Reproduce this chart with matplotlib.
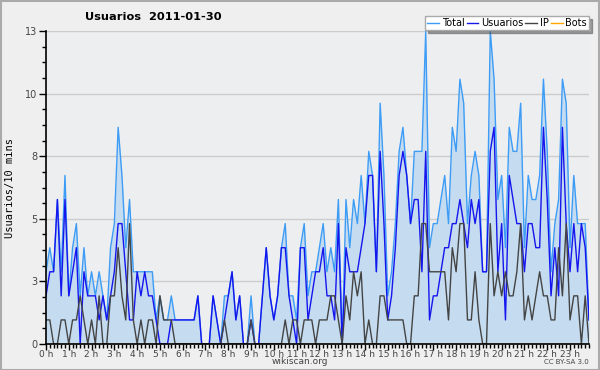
import matplotlib
matplotlib.use("Agg")
import matplotlib.pyplot as plt
import numpy as np
from matplotlib.ticker import FixedLocator, MultipleLocator

# valores por intervalo de 10 minutos (144 puntos)
total = [3, 4, 3, 6, 3, 7, 2, 4, 5, 2,
         4, 2, 3, 2, 3, 2, 1, 4, 5, 9,
         7, 4, 6, 3, 3, 3, 3, 3, 3, 1,
         2, 1, 1, 2, 1, 1, 1, 1, 1, 1,
         2, 0, 0, 0, 2, 1, 0, 2, 2, 3,
         1, 2, 0, 0, 2, 0, 0, 2, 4, 2,
         1, 2, 4, 5, 2, 2, 1, 4, 5, 2,
         3, 3, 4, 5, 3, 4, 3, 6, 0, 6,
         4, 6, 5, 7, 5, 8, 7, 3, 10, 7,
         2, 3, 5, 8, 9, 7, 5, 8, 8, 8,
         13, 4, 5, 5, 6, 7, 5, 9, 8, 11,
         10, 5, 7, 8, 7, 3, 3, 13, 11, 6,
         7, 4, 9, 8, 8, 10, 4, 7, 6, 6,
         7, 11, 8, 3, 5, 6, 11, 10, 4, 7,
         5, 5, 5, 1]
usuarios = [2, 3, 3, 6, 2, 6, 2, 3, 4, 0,
            3, 2, 2, 2, 1, 2, 1, 2, 3, 5,
            5, 3, 1, 1, 3, 2, 3, 2, 2, 1,
            0, 0, 0, 1, 1, 1, 1, 1, 1, 1,
            2, 0, 0, 0, 2, 1, 0, 1, 2, 3,
            1, 2, 0, 0, 1, 0, 0, 2, 4, 2,
            1, 2, 4, 4, 2, 1, 0, 4, 4, 1,
            2, 3, 3, 4, 2, 2, 1, 5, 0, 4,
            3, 3, 3, 4, 5, 7, 7, 3, 8, 5,
            1, 2, 4, 7, 8, 7, 5, 6, 6, 3,
            8, 1, 2, 2, 3, 4, 4, 5, 5, 6,
            5, 4, 6, 5, 6, 3, 3, 8, 9, 3,
            5, 1, 7, 6, 5, 5, 3, 5, 5, 4,
            4, 9, 6, 2, 4, 2, 9, 5, 3, 5,
            3, 5, 4, 1]
ip = [1, 1, 0, 0, 1, 1, 0, 1, 1, 2,
      1, 0, 1, 0, 2, 0, 0, 2, 2, 4,
      2, 1, 5, 1, 0, 1, 0, 1, 1, 0,
      2, 1, 1, 1, 0, 0, 0, 0, 0, 0,
      0, 0, 0, 0, 0, 0, 0, 1, 0, 0,
      0, 0, 0, 0, 1, 0, 0, 0, 0, 0,
      0, 0, 0, 1, 0, 1, 1, 0, 1, 1,
      1, 0, 1, 1, 1, 2, 2, 1, 0, 2,
      1, 3, 2, 3, 0, 1, 0, 0, 2, 2,
      1, 1, 1, 1, 1, 0, 0, 2, 2, 5,
      5, 3, 3, 3, 3, 3, 1, 4, 3, 5,
      5, 1, 1, 3, 1, 0, 0, 5, 2, 3,
      2, 3, 2, 2, 3, 5, 1, 2, 1, 2,
      3, 2, 2, 1, 1, 4, 2, 5, 1, 2,
      2, 0, 2, 0]
bots = [0] * 144
hour_labels = [f"{h} h" for h in range(24)]

W, H = 600, 370
fig = plt.figure(figsize=(6, 3.7), dpi=100, facecolor="#efefef")
ax = fig.add_axes([46 / W, 1 - 344 / H, (589 - 46) / W, (344 - 31) / H])
ax.set_facecolor("#edeef0")

x = np.arange(len(total))
ax.fill_between(x, total, 0, color="#c5dcf0", lw=0, zorder=1)
ax.plot(x, total, color="#3d9cf5", lw=1.0, label="Total", zorder=3)
ax.plot(x, usuarios, color="#1515ee", lw=1.0, label="Usuarios", zorder=4)
ax.plot(x, ip, color="#444444", lw=1.0, label="IP", zorder=5)
ax.plot(x, bots, color="#ffa500", lw=1.0, label="Bots", zorder=2)

ax.set_xlim(0, 143)
ax.set_ylim(0, 13)

yt = np.linspace(0, 13, 6)
ax.yaxis.set_major_locator(FixedLocator(yt))
ax.set_yticklabels([f"{round(v)}" for v in yt])
ax.yaxis.set_minor_locator(MultipleLocator(0.65))
ax.xaxis.set_major_locator(FixedLocator(np.arange(0, 144, 6)))
ax.set_xticklabels(hour_labels)
ax.xaxis.set_minor_locator(MultipleLocator(1))

ax.tick_params(axis="y", which="major", length=5, width=1, color="black",
               labelsize=7, labelcolor="#444444", pad=1)
ax.tick_params(axis="x", which="major", length=4, width=1, color="black",
               labelsize=6.5, labelcolor="#444444", pad=0)
ax.tick_params(axis="both", which="minor", length=3, width=1, color="black")
ax.grid(axis="y", which="major", color="#cccccc", lw=1, zorder=0)
ax.set_axisbelow(True)
for s in ["top", "right"]:
    ax.spines[s].set_visible(False)
for s in ["left", "bottom"]:
    ax.spines[s].set_linewidth(1.2)
    ax.spines[s].set_zorder(6)

ax.set_ylabel("Usuarios/10 mins", family="DejaVu Sans Mono", fontsize=7.5)
ax.yaxis.set_label_coords(-0.057, 0.5)

fig.text(85 / W, 1 - 17 / H, "Usuarios  2011-01-30", fontsize=8.2,
         fontweight="bold", ha="left", va="center")

leg = ax.legend(loc="upper right", bbox_to_anchor=(589 / W, 1 - 16 / H),
                bbox_transform=fig.transFigure, ncol=4, fontsize=7,
                frameon=True, fancybox=False, shadow=True, framealpha=1,
                edgecolor="#aaaaaa", handlelength=1.2, handletextpad=0.3,
                columnspacing=0.2, borderpad=0.2, borderaxespad=0)
leg.get_frame().set_linewidth(1)

fig.text(300 / W, 1 - 362 / H, "wikiscan.org", fontsize=6.5, color="#444444",
         ha="center", va="center")
fig.text(589 / W, 1 - 362 / H, "CC BY-SA 3.0", fontsize=5, color="#444444",
         ha="right", va="center")

fig.patches.append(plt.Rectangle((0.5 / W, 0.5 / H), 1 - 1.5 / W, 1 - 1.5 / H,
                                 transform=fig.transFigure, fill=False,
                                 edgecolor="#aaaaaa", lw=1.5))

fig.savefig("out.png", dpi=100, facecolor=fig.get_facecolor())
